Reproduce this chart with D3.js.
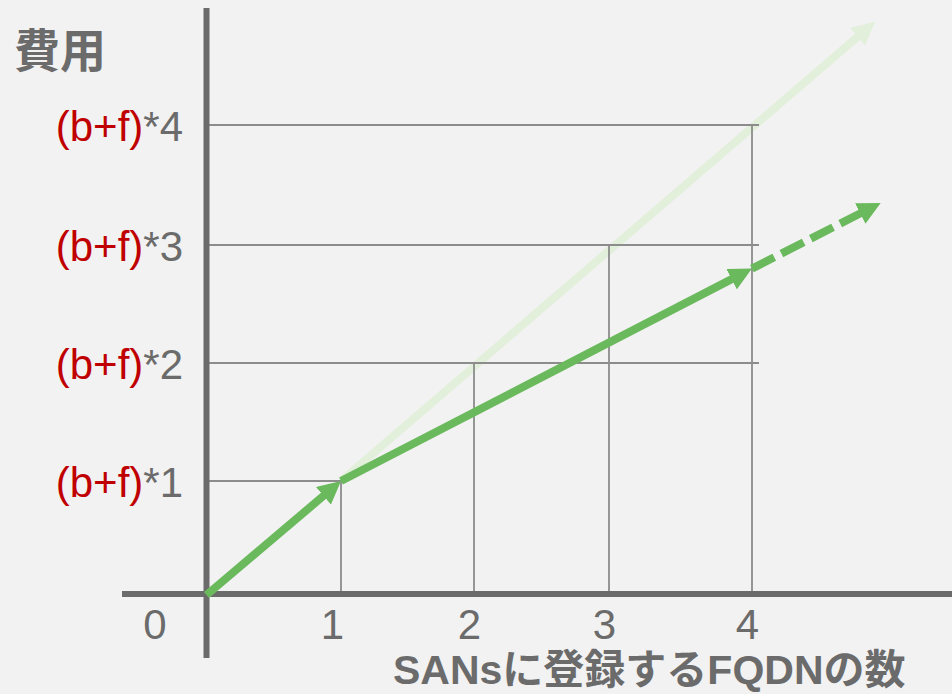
<!DOCTYPE html>
<html>
<head>
<meta charset="utf-8">
<script src="https://cdn.jsdelivr.net/npm/d3@7"></script>
<style>
  html, body { margin: 0; padding: 0; background: #f2f2f2; }
  svg { display: block; }
</style>
</head>
<body>
<svg id="chart" width="952" height="694"></svg>
<script>
// Count of FQDNs in the SANs field (x) vs. cost in units of (b+f) (y)
const xTicks = [0, 1, 2, 3, 4];
const xTickLabels = ["0", "1", "2", "3", "4"];
const yLevels = [1, 2, 3, 4];
const yLabelPrefix = "(b+f)";
const yLabelSuffixes = ["*1", "*2", "*3", "*4"];

// first FQDN: full price
const firstX = [0, 1];
const firstY = [0, 1];
// additional FQDNs at a reduced per-name price
const solidX = [1, 4];
const solidY = [1, 2.8];
// continuing trend beyond four names
const dashedX = [4, 4.9];
const dashedY = [2.8, 3.35];
// reference: a separate certificate per FQDN
const fadedX = [1, 4.86];
const fadedY = [1, 4.86];

const titleY = "費用";
const titleX = "SANsに登録するFQDNの数";

const GREEN = "#6bb95d";
const GREEN_FADED = "#e2efda";
const AXIS = "#6b6b6b";
const GRID = "#8c8c8c";
const RED = "#c00000";
const LATIN = "'Liberation Sans', Arial, sans-serif";
const CJK = "'Liberation Sans', 'Noto Sans CJK JP', sans-serif";

const svg = d3.select("#chart");

const x = d3.scaleLinear().domain(xTicks).range([206.5, 341, 474, 609, 752]);
const y = d3.scaleLinear().domain([0, 1, 2, 3, 4]).range([595, 481, 363, 245, 125]);

// arrowhead markers
const defs = svg.append("defs");
function marker(id, color) {
  defs.append("marker")
    .attr("id", id)
    .attr("markerUnits", "userSpaceOnUse")
    .attr("viewBox", "0 0 23 23")
    .attr("markerWidth", 23)
    .attr("markerHeight", 23)
    .attr("refX", 4)
    .attr("refY", 11.5)
    .attr("orient", "auto")
    .append("path")
    .attr("d", "M0,0 L23,11.5 L0,23 Z")
    .attr("fill", color);
}
marker("head", GREEN);
marker("headFaded", GREEN_FADED);

const line = d3.line();

// arrow from first to last point, trimmed so the head's tip lands on the end point
function arrow(xs, ys, color, markerId, dash) {
  const pts = xs.map((v, i) => [x(v), y(ys[i])]);
  const a = pts[pts.length - 2], b = pts[pts.length - 1];
  const dx = b[0] - a[0], dy = b[1] - a[1];
  const len = Math.hypot(dx, dy);
  const trim = 19;
  pts[pts.length - 1] = [b[0] - dx / len * trim, b[1] - dy / len * trim];
  svg.append("path")
    .attr("d", line(pts))
    .attr("fill", "none")
    .attr("stroke", color)
    .attr("stroke-width", 8)
    .attr("stroke-dasharray", dash || null)
    .attr("marker-end", `url(#${markerId})`);
}

// faded comparison arrow sits underneath the grid
arrow(fadedX, fadedY, GREEN_FADED, "headFaded");

// grid: horizontal guides per cost level, vertical guides per FQDN count
const grid = svg.append("g").attr("stroke", GRID).attr("stroke-width", 1.8);
grid.selectAll("line.h").data(yLevels).join("line")
  .attr("class", "h")
  .attr("x1", x(0))
  .attr("x2", d => d === 1 ? x(1) : x(4) + 7)
  .attr("y1", d => y(d))
  .attr("y2", d => y(d));
grid.selectAll("line.v").data(xTicks.filter(d => d > 0)).join("line")
  .attr("class", "v")
  .attr("x1", d => x(d))
  .attr("x2", d => x(d))
  .attr("y1", y(0))
  .attr("y2", d => y(d));

// axis lines
svg.append("line")
  .attr("x1", 122).attr("x2", 952)
  .attr("y1", y(0) - 1).attr("y2", y(0) - 1)
  .attr("stroke", AXIS).attr("stroke-width", 6);
svg.append("line")
  .attr("x1", x(0)).attr("x2", x(0))
  .attr("y1", 8).attr("y2", 658)
  .attr("stroke", AXIS).attr("stroke-width", 6);

// x tick labels
const xAxis = d3.axisBottom(x)
  .tickValues(xTicks)
  .tickSize(0)
  .tickFormat((d, i) => xTickLabels[i]);
const gx = svg.append("g")
  .attr("transform", `translate(0, ${y(0)})`)
  .call(xAxis);
gx.select(".domain").remove();
gx.selectAll(".tick text")
  .attr("fill", AXIS)
  .attr("font-family", LATIN)
  .attr("font-size", 42)
  .attr("dy", null)
  .attr("y", 44)
  .attr("x", d => d === 0 ? -52 : d === 1 ? -9 : -5);

// y level labels: "(b+f)" in red, multiplier in grey
const yl = svg.append("g")
  .attr("font-family", LATIN)
  .attr("font-size", 42)
  .attr("text-anchor", "end");
yl.selectAll("text").data(yLevels).join("text")
  .attr("x", 183)
  .attr("y", d => y(d) + 16)
  .each(function (d, i) {
    const t = d3.select(this);
    t.append("tspan").attr("fill", RED).text(yLabelPrefix);
    t.append("tspan").attr("fill", AXIS).text(yLabelSuffixes[i]);
  });

// main cost arrows
arrow(firstX, firstY, GREEN, "head");
arrow(solidX, solidY, GREEN, "head");
arrow(dashedX, dashedY, GREEN, "head", "25 8");

// axis titles
svg.append("text")
  .attr("x", 14).attr("y", 67)
  .attr("font-family", CJK)
  .attr("font-weight", "bold")
  .attr("font-size", 46)
  .attr("fill", AXIS)
  .text(titleY);
svg.append("text")
  .attr("x", 393).attr("y", 684)
  .attr("font-family", CJK)
  .attr("font-weight", "bold")
  .attr("font-size", 41)
  .attr("fill", AXIS)
  .text(titleX);
</script>
</body>
</html>
